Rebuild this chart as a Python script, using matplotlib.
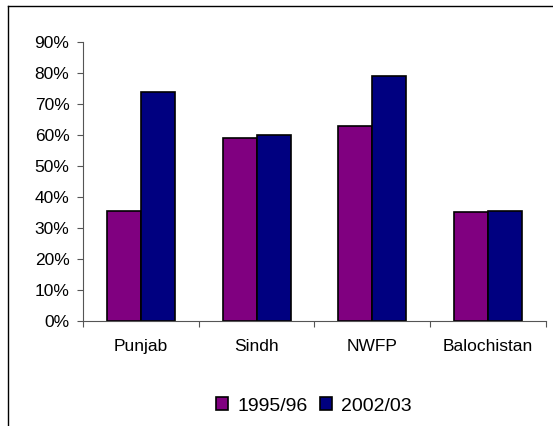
import numpy as np
import matplotlib.pyplot as plt
from matplotlib.lines import Line2D

plt.rcParams['font.family'] = ['Liberation Sans', 'DejaVu Sans']

categories = ['Punjab', 'Sindh', 'NWFP', 'Balochistan']
series_names = ['1995/96', '2002/03']
values_9596 = [35.5, 59.0, 63.0, 35.0]
values_0203 = [74.0, 60.0, 79.0, 35.5]
ytick_labels = ['0%', '10%', '20%', '30%', '40%', '50%', '60%', '70%', '80%', '90%']

W, H = 553, 426
fig = plt.figure(figsize=(W / 100, H / 100), dpi=100)

# axes position in pixels: x 83..545.7, y(0%) 320.7 .. y(90%) 42.3
x0, x1 = 83, 545.7
ybot, ytop = 320.7, 42.3
ax = fig.add_axes([x0 / W, 1 - ybot / H, (x1 - x0) / W, (ybot - ytop) / H])

x = np.arange(len(categories))
bw = 0.294
ax.bar(x - bw / 2, values_9596, bw, color='#800080', edgecolor='black', linewidth=1.2, label=series_names[0])
ax.bar(x + bw / 2, values_0203, bw, color='#000080', edgecolor='black', linewidth=1.2, label=series_names[1])

ax.set_xlim(-0.5, len(categories) - 0.5)
ax.set_ylim(0, 90)
ax.set_yticks(np.arange(0, 91, 10))
ax.set_yticklabels(ytick_labels, fontsize=12.5)
ax.set_xticks(np.arange(-0.5, len(categories), 1))
ax.set_xticklabels([])
ax.set_xticks(x, minor=True)
ax.set_xticklabels(categories, minor=True, fontsize=12.5)
ax.tick_params(axis='x', which='minor', length=0, pad=13)
ax.tick_params(axis='x', which='major', length=4, width=0.8, color='#555555')
ax.tick_params(axis='y', length=4.3, width=0.8, color='#555555', pad=5.5)
for s in ['top', 'right']:
    ax.spines[s].set_visible(False)
for s in ['left', 'bottom']:
    ax.spines[s].set_color('#555555')
    ax.spines[s].set_linewidth(0.8)

leg = fig.legend(loc='center', bbox_to_anchor=(314 / W, 1 - 406 / H), ncol=2,
                 frameon=False, fontsize=14, handlelength=0.62, handleheight=0.62,
                 handletextpad=0.5, columnspacing=0.6)

# outer frame: left and top edges
fig.add_artist(Line2D([8 / W, 8 / W], [0, 1 - 6 / H], color='black', linewidth=1.0, transform=fig.transFigure))
fig.add_artist(Line2D([8 / W, 1], [1 - 6 / H, 1 - 6 / H], color='black', linewidth=1.0, transform=fig.transFigure))

fig.savefig('out.png', dpi=100)
